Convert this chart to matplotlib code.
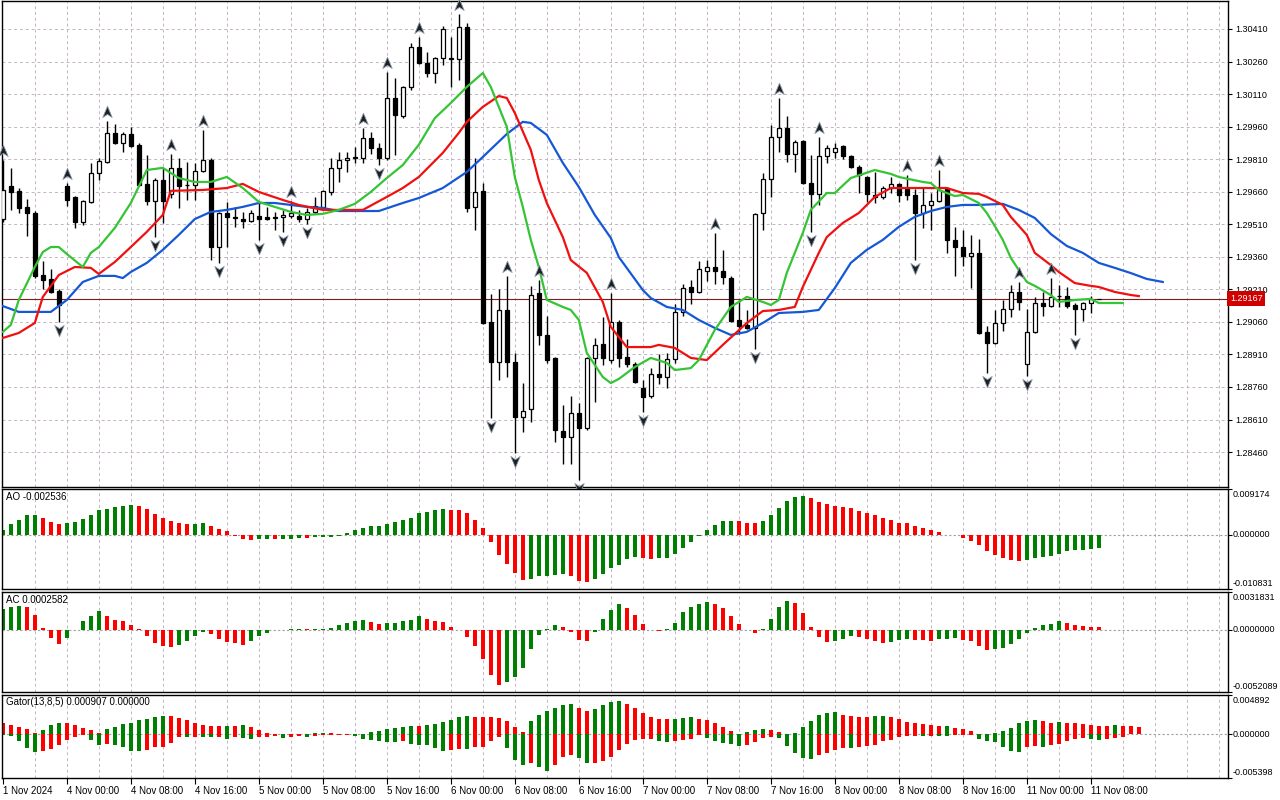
import numpy as np
import matplotlib.pyplot as plt
import matplotlib.transforms as mtransforms
from matplotlib.path import Path

plt.rcParams.update({'font.family': ['Liberation Sans', 'DejaVu Sans'], 'font.size': 7})

# ---------------- data (GBPUSD H1) ----------------
opens = [1.29534, 1.29687, 1.29664, 1.29590, 1.29562, 1.29276, 1.29258, 1.29203, 1.29687, 1.29636,
         1.29521, 1.29613, 1.29746, 1.29797, 1.29931, 1.29885, 1.29926, 1.29876, 1.29696, 1.29617,
         1.29714, 1.29650, 1.29770, 1.29689, 1.29691, 1.29756, 1.29806, 1.29405, 1.29562, 1.29544,
         1.29534, 1.29525, 1.29548, 1.29544, 1.29544, 1.29544, 1.29548, 1.29548, 1.29534, 1.29567,
         1.29590, 1.29659, 1.29770, 1.29806, 1.29816, 1.29816, 1.29908, 1.29862, 1.29816, 1.30092,
         1.30009, 1.30143, 1.30327, 1.30254, 1.30207, 1.30277, 1.30272, 1.30272, 1.30419, 1.29590,
         1.29664, 1.29060, 1.28875, 1.29115, 1.28875, 1.28622, 1.28659, 1.29193, 1.29000, 1.28894,
         1.28557, 1.28529, 1.28640, 1.28571, 1.28894, 1.28958, 1.28884, 1.29060, 1.28898, 1.28866,
         1.28755, 1.28718, 1.28820, 1.28806, 1.28889, 1.29106, 1.29221, 1.29198, 1.29295, 1.29313,
         1.29295, 1.29262, 1.29069, 1.29046, 1.29033, 1.29562, 1.29719, 1.29912, 1.29954, 1.29835,
         1.29895, 1.29700, 1.29650, 1.29825, 1.29844, 1.29871, 1.29825, 1.29774, 1.29728, 1.29645,
         1.29636, 1.29677, 1.29696, 1.29673, 1.29645, 1.29562, 1.29599, 1.29617, 1.29677, 1.29438,
         1.29405, 1.29364, 1.29378, 1.29014, 1.28963, 1.29055, 1.29120, 1.29198, 1.28866, 1.29014,
         1.29148, 1.29133, 1.29179, 1.29179, 1.29138, 1.29120, 1.29147, 1.29167]
highs = [1.29806, 1.29770, 1.29677, 1.29627, 1.29571, 1.29341, 1.29304, 1.29212, 1.29700, 1.29640,
         1.29622, 1.29793, 1.29816, 1.29986, 1.29972, 1.29935, 1.29959, 1.29885, 1.29829, 1.29723,
         1.29770, 1.29835, 1.29816, 1.29797, 1.29793, 1.29945, 1.29816, 1.29567, 1.29613, 1.29590,
         1.29567, 1.29576, 1.29608, 1.29590, 1.29567, 1.29576, 1.29617, 1.29576, 1.29585, 1.29636,
         1.29668, 1.29816, 1.29843, 1.29843, 1.29866, 1.29954, 1.29935, 1.29885, 1.30212, 1.30184,
         1.30148, 1.30346, 1.30373, 1.30304, 1.30281, 1.30424, 1.30373, 1.30479, 1.30438, 1.29816,
         1.29700, 1.29189, 1.29212, 1.29272, 1.28917, 1.28778, 1.29226, 1.29253, 1.29087, 1.28898,
         1.28677, 1.28718, 1.28686, 1.28898, 1.28986, 1.29083, 1.29193, 1.29069, 1.28981, 1.28875,
         1.28792, 1.28847, 1.28912, 1.28917, 1.29143, 1.29235, 1.29253, 1.29341, 1.29345, 1.29470,
         1.29392, 1.29272, 1.29161, 1.29115, 1.29562, 1.29746, 1.29968, 1.30092, 1.30009, 1.29899,
         1.29899, 1.29829, 1.29913, 1.29876, 1.29885, 1.29876, 1.29829, 1.29783, 1.29733, 1.29751,
         1.29687, 1.29728, 1.29700, 1.29737, 1.29673, 1.29682, 1.29654, 1.29760, 1.29682, 1.29498,
         1.29484, 1.29461, 1.29443, 1.29041, 1.29115, 1.29161, 1.29230, 1.29244, 1.29120, 1.29175,
         1.29198, 1.29262, 1.29230, 1.29221, 1.29147, 1.29152, 1.29179, 1.29167]
lows = [1.29521, 1.29576, 1.29562, 1.29456, 1.29262, 1.29212, 1.29193, 1.29060, 1.29594, 1.29493,
        1.29507, 1.29608, 1.29714, 1.29793, 1.29881, 1.29844, 1.29866, 1.29687, 1.29599, 1.29451,
        1.29516, 1.29631, 1.29585, 1.29622, 1.29622, 1.29751, 1.29345, 1.29332, 1.29405, 1.29498,
        1.29493, 1.29521, 1.29438, 1.29530, 1.29484, 1.29475, 1.29539, 1.29521, 1.29511, 1.29558,
        1.29585, 1.29645, 1.29705, 1.29751, 1.29793, 1.29793, 1.29834, 1.29783, 1.29806, 1.29829,
        1.30000, 1.30129, 1.30249, 1.30189, 1.30161, 1.30244, 1.30143, 1.30175, 1.29567, 1.29484,
        1.29050, 1.28617, 1.28792, 1.28806, 1.28456, 1.28553, 1.28599, 1.28954, 1.28871, 1.28506,
        1.28405, 1.28405, 1.28331, 1.28562, 1.28691, 1.28861, 1.28871, 1.28852, 1.28852, 1.28778,
        1.28645, 1.28709, 1.28774, 1.28755, 1.28871, 1.29087, 1.29143, 1.29193, 1.29249, 1.29235,
        1.29235, 1.29060, 1.29004, 1.29029, 1.28935, 1.29484, 1.29636, 1.29843, 1.29797, 1.29751,
        1.29696, 1.29475, 1.29599, 1.29793, 1.29816, 1.29811, 1.29770, 1.29654, 1.29613, 1.29608,
        1.29627, 1.29654, 1.29613, 1.29622, 1.29345, 1.29493, 1.29484, 1.29613, 1.29378, 1.29272,
        1.29318, 1.29216, 1.29004, 1.28825, 1.28958, 1.29018, 1.29083, 1.29115, 1.28811, 1.29009,
        1.29087, 1.29129, 1.29129, 1.29124, 1.29000, 1.29064, 1.29101, 1.29167]
closes = [1.29668, 1.29659, 1.29585, 1.29562, 1.29272, 1.29253, 1.29198, 1.29138, 1.29622, 1.29521,
          1.29617, 1.29746, 1.29802, 1.29931, 1.29885, 1.29926, 1.29871, 1.29691, 1.29617, 1.29714,
          1.29617, 1.29770, 1.29687, 1.29689, 1.29756, 1.29806, 1.29405, 1.29562, 1.29544, 1.29539,
          1.29525, 1.29562, 1.29534, 1.29534, 1.29539, 1.29553, 1.29562, 1.29534, 1.29567, 1.29594,
          1.29664, 1.29770, 1.29806, 1.29816, 1.29821, 1.29908, 1.29862, 1.29816, 1.30092, 1.30014,
          1.30143, 1.30327, 1.30254, 1.30207, 1.30277, 1.30410, 1.30277, 1.30419, 1.29585, 1.29659,
          1.29055, 1.28875, 1.29115, 1.28875, 1.28622, 1.28649, 1.29184, 1.29000, 1.28884, 1.28562,
          1.28529, 1.28640, 1.28571, 1.28894, 1.28954, 1.28894, 1.29060, 1.28894, 1.28866, 1.28783,
          1.28714, 1.28820, 1.28806, 1.28889, 1.29106, 1.29216, 1.29198, 1.29304, 1.29313, 1.29295,
          1.29267, 1.29064, 1.29041, 1.29033, 1.29558, 1.29719, 1.29912, 1.29954, 1.29835, 1.29890,
          1.29700, 1.29650, 1.29825, 1.29862, 1.29862, 1.29825, 1.29774, 1.29737, 1.29650, 1.29636,
          1.29677, 1.29696, 1.29645, 1.29645, 1.29562, 1.29599, 1.29617, 1.29668, 1.29438, 1.29405,
          1.29364, 1.29378, 1.29009, 1.28963, 1.29055, 1.29120, 1.29198, 1.29152, 1.29014, 1.29148,
          1.29133, 1.29175, 1.29179, 1.29133, 1.29120, 1.29147, 1.29166, 1.29167]

fractal_up = [0, 8, 13, 21, 25, 36, 45, 48, 52, 57, 63, 67, 76, 89, 97, 102, 113, 117, 127, 131]
fractal_down = [7, 19, 27, 32, 35, 38, 47, 61, 64, 72, 80, 94, 101, 114, 123, 128, 134]

# Alligator (jaw / teeth / lips), read at bar positions
jaw_x = [0, 2, 4, 6, 8, 10, 12, 14, 15, 16, 18, 20, 22, 24, 26, 28, 30, 32, 34, 36,
         38, 40, 42, 44, 47, 50, 52, 55, 58, 60, 63, 65, 66, 68, 70, 72, 74, 76, 77, 80,
         81, 83, 85, 87, 89, 91, 93, 95, 97, 100, 102, 104, 106, 108, 110, 112, 114, 116, 118, 120,
         122, 125, 127, 129, 131, 133, 135, 137, 139, 141, 143, 145]
jaw_y = [1.29133, 1.29106, 1.29106, 1.29106, 1.29161, 1.29244, 1.29272, 1.29272, 1.29262, 1.29290,
         1.29332, 1.29392, 1.29461, 1.29534, 1.29567, 1.29576, 1.29590, 1.29608, 1.29608, 1.29599,
         1.29590, 1.29585, 1.29571, 1.29571, 1.29571, 1.29608, 1.29631, 1.29677, 1.29751, 1.29820,
         1.29926, 1.29982, 1.29977, 1.29922, 1.29793, 1.29682, 1.29553, 1.29447, 1.29359, 1.29207,
         1.29170, 1.29129, 1.29115, 1.29069, 1.29032, 1.29000, 1.29014, 1.29055, 1.29101, 1.29106,
         1.29115, 1.29216, 1.29332, 1.29392, 1.29438, 1.29498, 1.29544, 1.29571, 1.29590, 1.29599,
         1.29599, 1.29604, 1.29576, 1.29539, 1.29465, 1.29410, 1.29378, 1.29332, 1.29309, 1.29285,
         1.29258, 1.29244]
teeth_x = [0, 2, 4, 5, 7, 9, 11, 12, 14, 16, 18, 20, 21, 25, 28, 30, 32, 35, 37, 40,
           45, 48, 50, 52, 55, 57, 58, 60, 62, 63, 64, 66, 67, 68, 70, 71, 73, 75, 76, 78,
           81, 82, 84, 86, 88, 90, 93, 95, 97, 99, 100, 102, 103, 105, 107, 109, 111, 118, 120, 122,
           123, 125, 126, 128, 129, 131, 132, 134, 136, 137, 139, 141, 142]
teeth_y = [1.28986, 1.29009, 1.29055, 1.29175, 1.29276, 1.29313, 1.29309, 1.29281, 1.29336, 1.29405,
           1.29475, 1.29553, 1.29664, 1.29668, 1.29677, 1.29696, 1.29659, 1.29622, 1.29599, 1.29576,
           1.29576, 1.29636, 1.29677, 1.29728, 1.29839, 1.29931, 1.29982, 1.30051, 1.30101, 1.30092,
           1.30023, 1.29853, 1.29714, 1.29608, 1.29451, 1.29345, 1.29286, 1.29152, 1.29037, 1.28944,
           1.28944, 1.28954, 1.28940, 1.28894, 1.28884, 1.28954, 1.29055, 1.29110, 1.29115, 1.29129,
           1.29221, 1.29378, 1.29451, 1.29516, 1.29562, 1.29636, 1.29677, 1.29677, 1.29654, 1.29650,
           1.29636, 1.29599, 1.29544, 1.29461, 1.29378, 1.29322, 1.29290, 1.29239, 1.29226, 1.29221,
           1.29198, 1.29184, 1.29179]
lips_x = [0, 1, 2, 4, 5, 6, 7, 8, 10, 11, 12, 14, 16, 18, 20, 22, 24, 26, 28, 30,
          32, 34, 36, 38, 40, 42, 44, 46, 48, 50, 52, 54, 56, 58, 59, 60, 61, 63, 64, 65,
          66, 67, 68, 70, 71, 72, 73, 75, 76, 77, 79, 81, 83, 84, 86, 87, 89, 91, 93, 95,
          96, 97, 98, 100, 101, 103, 104, 106, 109, 111, 112, 115, 116, 117, 119, 120, 122, 123, 124, 125,
          126, 127, 128, 129, 131, 132, 134, 136, 137, 140]
lips_y = [1.29014, 1.29046, 1.29161, 1.29313, 1.29382, 1.29405, 1.29405, 1.29373, 1.29313, 1.29378,
          1.29405, 1.29493, 1.29608, 1.29760, 1.29770, 1.29723, 1.29705, 1.29705, 1.29728, 1.29677,
          1.29613, 1.29590, 1.29567, 1.29553, 1.29558, 1.29576, 1.29604, 1.29659, 1.29723, 1.29783,
          1.29876, 1.29999, 1.30069, 1.30143, 1.30175, 1.30207, 1.30143, 1.29959, 1.29728, 1.29590,
          1.29438, 1.29313, 1.29161, 1.29129, 1.29115, 1.29069, 1.28917, 1.28806, 1.28778, 1.28797,
          1.28852, 1.28894, 1.28871, 1.28838, 1.28847, 1.28884, 1.29023, 1.29129, 1.29175, 1.29152,
          1.29138, 1.29161, 1.29286, 1.29470, 1.29576, 1.29654, 1.29654, 1.29723, 1.29760, 1.29742,
          1.29728, 1.29705, 1.29700, 1.29668, 1.29640, 1.29645, 1.29608, 1.29562, 1.29502, 1.29438,
          1.29355, 1.29299, 1.29244, 1.29226, 1.29184, 1.29152, 1.29161, 1.29166, 1.29147, 1.29147]

ao = [0.00088, 0.00211, 0.00306, 0.00388, 0.00390, 0.00347, 0.00265, 0.00211, 0.00231, 0.00265,
      0.00326, 0.00388, 0.00490, 0.00510, 0.00551, 0.00571, 0.00592, 0.00571, 0.00510, 0.00415,
      0.00347, 0.00279, 0.00231, 0.00208, 0.00213, 0.00231, 0.00184, 0.00109, 0.00068, -0.00014,
      -0.00082, -0.00102, -0.00088, -0.00082, -0.00086, -0.00082, -0.00075, -0.00054, -0.00058, -0.00052,
      -0.00048, -0.00034, -0.00014, 0.00041, 0.00088, 0.00129, 0.00170, 0.00172, 0.00211, 0.00252,
      0.00292, 0.00347, 0.00435, 0.00456, 0.00490, 0.00510, 0.00492, 0.00488, 0.00435, 0.00306,
      0.00129, -0.00136, -0.00401, -0.00592, -0.00768, -0.00898, -0.00877, -0.00830, -0.00828, -0.00809,
      -0.00789, -0.00830, -0.00932, -0.00952, -0.00884, -0.00789, -0.00666, -0.00598, -0.00483, -0.00449,
      -0.00462, -0.00483, -0.00462, -0.00455, -0.00381, -0.00258, -0.00136, -0.00014, 0.00102, 0.00204,
      0.00272, 0.00286, 0.00283, 0.00245, 0.00231, 0.00272, 0.00394, 0.00530, 0.00673, 0.00755,
      0.00782, 0.00734, 0.00653, 0.00619, 0.00571, 0.00551, 0.00530, 0.00483, 0.00442, 0.00394,
      0.00340, 0.00292, 0.00245, 0.00231, 0.00184, 0.00143, 0.00088, 0.00061, 0.00007, -0.00007,
      -0.00068, -0.00116, -0.00211, -0.00320, -0.00401, -0.00469, -0.00510, -0.00515, -0.00503, -0.00462,
      -0.00442, -0.00415, -0.00374, -0.00320, -0.00299, -0.00295, -0.00286, -0.002536]
ac = [0.00178, 0.00195, 0.00198, 0.00190, 0.00122, 0.00017, -0.00065, -0.00116, -0.00065, -0.00002,
      0.00071, 0.00113, 0.00156, 0.00113, 0.00085, 0.00071, 0.00045, 0.00008, -0.00048, -0.00108,
      -0.00133, -0.00142, -0.00125, -0.00093, -0.00048, -0.00014, -0.00031, -0.00074, -0.00102, -0.00108,
      -0.00125, -0.00091, -0.00048, -0.00023, -0.00004, -0.00001, 0.00004, 0.00006, 0.00005, 0.00007,
      0.00008, 0.00020, 0.00045, 0.00059, 0.00071, 0.00085, 0.00068, 0.00051, 0.00059, 0.00062,
      0.00071, 0.00085, 0.00119, 0.00093, 0.00076, 0.00068, 0.00025, -0.00002, -0.00057, -0.00133,
      -0.00246, -0.00382, -0.00458, -0.00439, -0.00396, -0.00320, -0.00158, -0.00040, 0.00006, 0.00045,
      0.00025, -0.00014, -0.00082, -0.00091, -0.00014, 0.00091, 0.00170, 0.00221, 0.00187, 0.00127,
      0.00051, -0.00003, -0.00005, 0.00006, 0.00059, 0.00147, 0.00195, 0.00218, 0.00235, 0.00221,
      0.00187, 0.00119, 0.00051, -0.00003, -0.00028, 0.00006, 0.00093, 0.00195, 0.00243, 0.00229,
      0.00144, 0.00025, -0.00057, -0.00099, -0.00091, -0.00074, -0.00048, -0.00057, -0.00074, -0.00091,
      -0.00108, -0.00099, -0.00082, -0.00074, -0.00082, -0.00084, -0.00091, -0.00074, -0.00072, -0.00070,
      -0.00082, -0.00091, -0.00133, -0.00167, -0.00158, -0.00150, -0.00116, -0.00074, -0.00023, 0.00017,
      0.00042, 0.00051, 0.00079, 0.00059, 0.00045, 0.00030, 0.00027, 0.0002582]
gator_up = [0.00142, 0.00117, 0.00096, 0.00067, 0.00017, 0.00054, 0.00121, 0.00142, 0.00140, 0.00117,
            0.00083, 0.00054, 0.00017, 0.00067, 0.00092, 0.00129, 0.00146, 0.00179, 0.00196, 0.00221,
            0.00229, 0.00227, 0.00204, 0.00179, 0.00142, 0.00117, 0.00104, 0.00102, 0.00104, 0.00101,
            0.00117, 0.00092, 0.00054, 0.00021, 0.00008, 0.00010, 0.00008, 0.00006, 0.00008, 0.00015,
            0.00017, 0.00016, 0.00004, 0.00001, 0.00002, 0.00004, 0.00029, 0.00046, 0.00067, 0.00083,
            0.00092, 0.00104, 0.00102, 0.00117, 0.00129, 0.00154, 0.00179, 0.00217, 0.00229, 0.00217,
            0.00215, 0.00213, 0.00204, 0.00167, 0.00096, 0.00029, 0.00167, 0.00242, 0.00288, 0.00329,
            0.00363, 0.00379, 0.00334, 0.00292, 0.00317, 0.00363, 0.00404, 0.00417, 0.00379, 0.00329,
            0.00271, 0.00217, 0.00192, 0.00190, 0.00196, 0.00204, 0.00217, 0.00188, 0.00175, 0.00142,
            0.00096, 0.00042, 0.00002, 0.00029, 0.00054, 0.00067, 0.00054, 0.00029, 0.00003, 0.00017,
            0.00088, 0.00167, 0.00238, 0.00271, 0.00279, 0.00242, 0.00225, 0.00217, 0.00215, 0.00229,
            0.00231, 0.00221, 0.00192, 0.00154, 0.00142, 0.00125, 0.00113, 0.00100, 0.00104, 0.00083,
            0.00067, 0.00046, 0.00005, 0.00010, 0.00013, 0.00038, 0.00079, 0.00142, 0.00167, 0.00179,
            0.00167, 0.00146, 0.00150, 0.00146, 0.00142, 0.00129, 0.00117, 0.00108, 0.00106, 0.00113,
            0.00110, 0.00104, 0.000907]
gator_down = [0.00010, 0.00017, 0.00079, 0.00167, 0.00221, 0.00204, 0.00183, 0.00129, 0.00067, 0.00029,
              0.00004, 0.00067, 0.00129, 0.00117, 0.00129, 0.00158, 0.00204, 0.00206, 0.00192, 0.00158,
              0.00150, 0.00104, 0.00029, 0.00031, 0.00030, 0.00032, 0.00033, 0.00031, 0.00054, 0.00029,
              0.00042, 0.00054, 0.00029, 0.00027, 0.00021, 0.00042, 0.00029, 0.00025, 0.00026, 0.00015,
              0.00010, 0.00008, 0.00005, 0.00002, 0.00025, 0.00054, 0.00067, 0.00079, 0.00096, 0.00098,
              0.00079, 0.00117, 0.00129, 0.00131, 0.00167, 0.00204, 0.00192, 0.00183, 0.00185, 0.00154,
              0.00152, 0.00079, 0.00029, 0.00167, 0.00321, 0.00375, 0.00359, 0.00400, 0.00455, 0.00375,
              0.00279, 0.00254, 0.00296, 0.00354, 0.00352, 0.00329, 0.00279, 0.00192, 0.00117, 0.00067,
              0.00054, 0.00054, 0.00079, 0.00092, 0.00079, 0.00067, 0.00054, 0.00004, 0.00042, 0.00079,
              0.00104, 0.00117, 0.00142, 0.00129, 0.00092, 0.00042, 0.00029, 0.00042, 0.00142, 0.00233,
              0.00292, 0.00304, 0.00250, 0.00229, 0.00188, 0.00167, 0.00169, 0.00158, 0.00146, 0.00125,
              0.00079, 0.00067, 0.00033, 0.00025, 0.00017, 0.00019, 0.00013, 0.00017, 0.00018, 0.00008,
              0.00004, 0.00002, 0.00054, 0.00079, 0.00096, 0.00150, 0.00200, 0.00217, 0.00158, 0.00138,
              0.00154, 0.00129, 0.00117, 0.00083, 0.00054, 0.00042, 0.00054, 0.00063, 0.00054, 0.00042,
              0.00033]

price_ticks = [1.28460, 1.28610, 1.28760, 1.28910, 1.29060, 1.29210, 1.29360, 1.29510,
               1.29660, 1.29810, 1.29960, 1.30110, 1.30260, 1.30410]
date_pos = list(range(0, 137, 8))
date_labels = ['1 Nov 2024', '4 Nov 00:00', '4 Nov 08:00', '4 Nov 16:00', '5 Nov 00:00',
               '5 Nov 08:00', '5 Nov 16:00', '6 Nov 00:00', '6 Nov 08:00', '6 Nov 16:00',
               '7 Nov 00:00', '7 Nov 08:00', '7 Nov 16:00', '8 Nov 00:00', '8 Nov 08:00',
               '8 Nov 16:00', '11 Nov 00:00', '11 Nov 08:00']
last_price = 1.29167
ao_range = (-0.010831, 0.009174)
ac_range = (-0.0052089, 0.0031831)
gator_range = (-0.005398, 0.004892)

# ---------------- layout ----------------
W, H = 1280, 800
fig = plt.figure(figsize=(12.8, 8), dpi=100, facecolor='white')


def box(top, bottom, left=2, right=1228):
    return [left / W, 1 - bottom / H, (right - left) / W, (bottom - top) / H]


ax = fig.add_axes(box(1, 487))
ax_ao = fig.add_axes(box(489, 589), sharex=ax)
ax_ac = fig.add_axes(box(592, 692), sharex=ax)
ax_gt = fig.add_axes(box(695, 778), sharex=ax)
axes = [ax, ax_ao, ax_ac, ax_gt]

GRID = '#c4b4c4'
GREEN = '#008000'
RED = '#ff0000'
SCALE_FS = 6.5
grid_x = np.arange(4, 154, 4)

for a in axes:
    a.set_xlim(-0.1, -0.1 + 1226 / 8)
    a.vlines(grid_x, 0, 1, transform=a.get_xaxis_transform(), colors=GRID,
             linestyles=(0, (3, 3)), linewidth=0.7, zorder=0)
    for s in a.spines.values():
        s.set_color('black')
        s.set_linewidth(1.0)
    a.yaxis.tick_right()
    a.tick_params(axis='y', length=3, width=0.8, pad=2, labelsize=SCALE_FS)
    a.tick_params(axis='x', bottom=False, labelbottom=False)

# ---------------- main price panel ----------------
x = np.arange(len(opens))
o = np.array(opens)
h = np.array(highs)
l = np.array(lows)
c = np.array(closes)

ax.set_ylim(1.28299, 1.30539)
ax.hlines(price_ticks, 0, 1, transform=ax.get_yaxis_transform(), colors=GRID,
          linestyles=(0, (3, 3)), linewidth=0.7, zorder=0)
ax.set_yticks(price_ticks)
ax.set_yticklabels(['%.5f' % p for p in price_ticks])

ax.vlines(x, l, h, color='black', linewidth=1.0, zorder=2)
up = c >= o
ax.bar(x[up], (c - o)[up], bottom=o[up], width=0.55, facecolor='white',
       edgecolor='black', linewidth=0.9, zorder=3)
ax.bar(x[~up], (o - c)[~up], bottom=c[~up], width=0.55, facecolor='black',
       edgecolor='black', linewidth=0.9, zorder=3)

ax.plot(jaw_x, jaw_y, color='#1558d6', linewidth=1.6, zorder=4)
ax.plot(teeth_x, teeth_y, color='#f01010', linewidth=1.6, zorder=4)
ax.plot(lips_x, lips_y, color='#35c435', linewidth=1.6, zorder=4)

ax.axhline(last_price, color='#7a1e1e', linewidth=0.8, zorder=1)
ax.text(1 + 2 / 1226, last_price, '%.5f' % last_price, color='white', fontsize=SCALE_FS,
        va='center', ha='left', transform=ax.get_yaxis_transform(),
        bbox=dict(boxstyle='square,pad=0.3', facecolor='#d00000', edgecolor='none'),
        zorder=6, clip_on=False)

# fractal arrows
arrow_up = Path([(0, 1), (0.75, -0.8), (0, -0.3), (-0.75, -0.8), (0, 1)],
                [Path.MOVETO, Path.LINETO, Path.LINETO, Path.LINETO, Path.CLOSEPOLY])
arrow_down = Path([(0, -1), (0.75, 0.8), (0, 0.3), (-0.75, 0.8), (0, -1)],
                  [Path.MOVETO, Path.LINETO, Path.LINETO, Path.LINETO, Path.CLOSEPOLY])
tr_up = mtransforms.offset_copy(ax.transData, fig=fig, y=9, units='dots')
tr_dn = mtransforms.offset_copy(ax.transData, fig=fig, y=-8, units='dots')
ax.plot(fractal_up, h[fractal_up], linestyle='none', marker=arrow_up, markersize=9,
        markerfacecolor='#202020', markeredgecolor='#8899aa', markeredgewidth=0.6,
        transform=tr_up, zorder=5, clip_on=False)
ax.plot(fractal_down, l[fractal_down], linestyle='none', marker=arrow_down, markersize=9,
        markerfacecolor='#202020', markeredgecolor='#8899aa', markeredgewidth=0.6,
        transform=tr_dn, zorder=5, clip_on=False)


# ---------------- indicator panels ----------------
def rise_colors(vals, first):
    cols = [first]
    for i in range(1, len(vals)):
        cols.append(GREEN if vals[i] > vals[i - 1] else RED)
    return cols


def panel(a, rng, title, labels):
    a.set_ylim(*rng)
    a.axhline(0, color='#a0a0a0', linewidth=0.8, linestyle=(0, (2, 2)), zorder=1)
    a.set_yticks([rng[0], 0, rng[1]])
    a.set_yticklabels([])
    a.text(0.003, 0.97, title, transform=a.transAxes, va='top', ha='left', fontsize=7)
    tx = 1 + 5 / 1226
    a.text(tx, 0.99, labels[0], transform=a.transAxes, va='top', ha='left', fontsize=SCALE_FS)
    a.text(tx, 0, labels[1], transform=a.get_yaxis_transform(), va='center', ha='left', fontsize=SCALE_FS)
    a.text(tx, 0.01, labels[2], transform=a.transAxes, va='bottom', ha='left', fontsize=SCALE_FS)


ax_ao.bar(np.arange(len(ao)), ao, width=0.45, color=rise_colors(ao, GREEN), linewidth=0, zorder=2)
panel(ax_ao, ao_range, 'AO -0.002536', ['0.009174', '0.000000', '-0.010831'])

ax_ac.bar(np.arange(len(ac)), ac, width=0.45, color=rise_colors(ac, GREEN), linewidth=0, zorder=2)
panel(ax_ac, ac_range, 'AC 0.0002582', ['0.0031831', '0.0000000', '-0.0052089'])

ax_gt.bar(np.arange(len(gator_up)), gator_up, width=0.45,
          color=rise_colors(gator_up, RED), linewidth=0, zorder=2)
ax_gt.bar(np.arange(len(gator_down)), -np.array(gator_down), width=0.45,
          color=rise_colors(gator_down, GREEN), linewidth=0, zorder=2)
panel(ax_gt, gator_range, 'Gator(13,8,5) 0.000907 0.000000', ['0.004892', '0.000000', '-0.005398'])

ax_gt.set_xticks(date_pos)
ax_gt.set_xticklabels(date_labels, ha='left')
ax_gt.tick_params(axis='x', bottom=True, labelbottom=True, length=4, width=0.8, pad=2, labelsize=7)

fig.savefig('out.png', dpi=100, facecolor='white')
